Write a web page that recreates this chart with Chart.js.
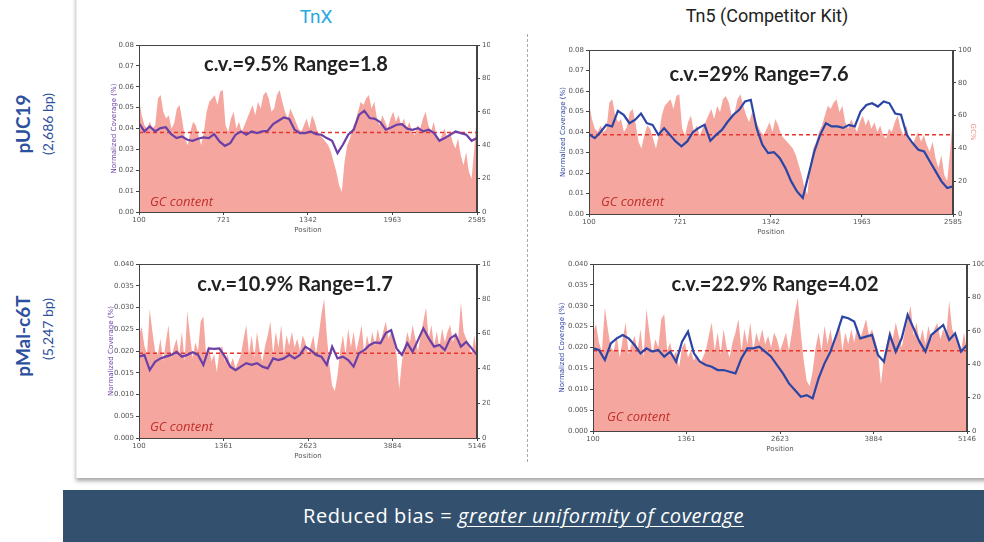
<!DOCTYPE html>
<html>
<head>
<meta charset="utf-8">
<script src="https://cdn.jsdelivr.net/npm/chart.js@4.4.1/dist/chart.umd.min.js"></script>
<style>
  body { margin: 0; width: 984px; height: 542px; position: relative; overflow: hidden; background: #fff; font-family: Lato, "Open Sans", sans-serif; }
  .abs { position: absolute; white-space: nowrap; }
  canvas { position: absolute; }
  .card { position: absolute; left: 76px; top: -10px; width: 930px; height: 488px; background: #fff; border-left: 1px solid #ececec; box-shadow: 0 3px 4px rgba(0,0,0,0.35); }
  .divider { position: absolute; left: 527px; top: 34px; height: 428px; border-left: 1px dashed #aaa; }
  .head { font-family: Roboto, sans-serif; font-size: 18px; transform: translateX(-50%); }
  .cv { font-family: Lato, sans-serif; font-weight: bold; font-size: 20px; color: #222; transform: translateX(-50%); }
  .gc { font-family: "Open Sans", sans-serif; font-style: italic; font-size: 13px; color: #c0302c; }
  .side { color: #2c4f9e; transform: translate(-50%, -50%) rotate(-90deg); }
  .banner { position: absolute; left: 63px; top: 490px; width: 921px; height: 52px; background: #33516f; color: #fff; font-family: "Open Sans", sans-serif; font-size: 20px; letter-spacing: 0.6px; text-align: center; line-height: 52px; }
  .banner i { font-weight: normal; text-decoration: underline; text-underline-offset: 3px; text-decoration-thickness: 1px; }
</style>
</head>
<body>
<div class="card"></div>
<div class="divider"></div>

<div class="abs head" style="left:316px; top:5px; color:#27aae1; font-size:19px;">TnX</div>
<div class="abs head" style="left:767px; top:5px; color:#222;">Tn5 (Competitor Kit)</div>

<div class="abs side" style="left:22px; top:124px; font-size:19px; font-weight:bold;">pUC19</div>
<div class="abs side" style="left:47px; top:124px; font-size:14px;">(2,686 bp)</div>
<div class="abs side" style="left:22px; top:336px; font-size:19px; font-weight:bold;">pMal-c6T</div>
<div class="abs side" style="left:47px; top:329px; font-size:14px;">(5,247 bp)</div>

<canvas id="chartTL"></canvas>
<canvas id="chartTR"></canvas>
<canvas id="chartBL"></canvas>
<canvas id="chartBR"></canvas>

<div class="abs cv" style="left:296px; top:51px;">c.v.=9.5% Range=1.8</div>
<div class="abs cv" style="left:759px; top:61px;">c.v.=29% Range=7.6</div>
<div class="abs cv" style="left:295px; top:271px;">c.v.=10.9% Range=1.7</div>
<div class="abs cv" style="left:775px; top:271px;">c.v.=22.9% Range=4.02</div>

<div class="abs gc" style="left:150px; top:192px;">GC content</div>
<div class="abs gc" style="left:601px; top:192px;">GC content</div>
<div class="abs gc" style="left:150px; top:417px;">GC content</div>
<div class="abs gc" style="left:607px; top:407px;">GC content</div>

<div class="banner">Reduced bias = <i>greater uniformity of coverage</i></div>

<script>
// rozsahy pozic
const topStart = 100, topEnd = 2585;
const botStart = 100, botEnd = 5146;
const topTicks = [100, 721, 1342, 1963, 2585];
const botTicks = [100, 1361, 2623, 3884, 5146];

// GC obsah (%) - pUC19
const gcTop = [68,58,52,50,54,50,52,68,70,60,56,58,50,53,62,64,55,44,40,48,
  54,52,46,40,48,60,66,68,70,64,72,73,52,48,56,60,50,54,48,52,
  56,60,64,58,66,62,70,72,68,60,62,70,73,66,60,56,62,58,54,50,
  48,52,56,50,58,54,48,46,44,42,40,36,30,24,16,12,30,40,44,50,
  54,60,66,64,68,70,62,66,56,52,58,54,50,56,60,54,58,52,56,50,
  54,48,46,52,50,56,60,52,48,54,46,42,46,50,44,48,42,38,44,34,
  28,36,24,20,38,60];

// GC obsah (%) - pMal-c6T
const gcBot = [59,64,53,48,74,61,50,48,57,44,55,65,46,52,57,48,61,44,73,59,
  46,55,50,67,70,48,53,44,48,38,50,53,44,48,42,46,40,44,48,57,
  65,48,59,46,61,50,44,53,59,67,48,61,52,65,48,59,53,61,52,57,
  50,59,55,48,53,59,48,59,71,80,59,42,30,27,36,50,59,48,63,52,
  61,50,57,65,48,59,52,61,53,63,55,61,67,57,61,55,48,28,44,52,
  61,55,65,57,50,59,67,75,57,65,53,61,52,63,55,61,65,55,61,57,
  78,61,57,53,48,59,48];

// normalizované pokrytí
const covTnXTop = [0.0426,0.0386,0.0410,0.0386,0.0402,0.0406,0.0373,0.0354,0.0362,0.0346,
  0.0341,0.0351,0.0357,0.0354,0.0373,0.0338,0.0317,0.0330,0.0370,0.0386,
  0.0370,0.0386,0.0378,0.0386,0.0389,0.0421,0.0437,0.0453,0.0446,0.0394,
  0.0378,0.0378,0.0386,0.0373,0.0370,0.0354,0.0341,0.0282,0.0322,0.0370,
  0.0394,0.0465,0.0485,0.0450,0.0446,0.0430,0.0394,0.0405,0.0418,0.0421,
  0.0399,0.0394,0.0402,0.0386,0.0394,0.0378,0.0341,0.0354,0.0370,0.0386,
  0.0378,0.0370,0.0341,0.0354];
const covTn5Top = [0.0390,0.0370,0.0400,0.0435,0.0427,0.0503,0.0484,0.0443,0.0460,0.0490,
  0.0443,0.0435,0.0386,0.0419,0.0386,0.0354,0.0330,0.0354,0.0400,0.0420,
  0.0435,0.0357,0.0386,0.0410,0.0450,0.0484,0.0508,0.0549,0.0557,0.0420,
  0.0338,0.0297,0.0302,0.0273,0.0224,0.0159,0.0110,0.0078,0.0191,0.0305,
  0.0386,0.0443,0.0427,0.0427,0.0420,0.0435,0.0427,0.0500,0.0532,0.0540,
  0.0524,0.0549,0.0540,0.0490,0.0484,0.0386,0.0346,0.0313,0.0305,0.0256,
  0.0208,0.0159,0.0127,0.0135];
const covTnXBot = [0.0187,0.0191,0.0156,0.0175,0.0183,0.0187,0.0191,0.0198,0.0187,0.0191,
  0.0197,0.0191,0.0168,0.0206,0.0205,0.0206,0.0187,0.0164,0.0156,0.0164,
  0.0172,0.0168,0.0172,0.0164,0.0160,0.0183,0.0179,0.0183,0.0191,0.0183,
  0.0191,0.0210,0.0202,0.0191,0.0187,0.0168,0.0210,0.0183,0.0187,0.0179,
  0.0164,0.0195,0.0202,0.0214,0.0220,0.0218,0.0241,0.0248,0.0206,0.0191,
  0.0218,0.0198,0.0225,0.0252,0.0229,0.0210,0.0214,0.0202,0.0229,0.0237,
  0.0210,0.0221,0.0206,0.0191];
const covTn5Bot = [0.0198,0.0194,0.0170,0.0210,0.0222,0.0230,0.0222,0.0206,0.0186,0.0198,
  0.0190,0.0194,0.0178,0.0190,0.0166,0.0214,0.0238,0.0186,0.0166,0.0158,
  0.0154,0.0146,0.0146,0.0142,0.0138,0.0174,0.0198,0.0198,0.0202,0.0190,
  0.0178,0.0158,0.0138,0.0114,0.0098,0.0082,0.0086,0.0078,0.0126,0.0162,
  0.0190,0.0230,0.0274,0.0270,0.0262,0.0222,0.0226,0.0230,0.0182,0.0166,
  0.0230,0.0190,0.0222,0.0278,0.0246,0.0214,0.0190,0.0230,0.0242,0.0254,
  0.0218,0.0234,0.0190,0.0206];

// průměrné pokrytí (čárkovaná čára)
const meanTnXTop = 0.0381, meanTn5Top = 0.0386;
const meanTnXBot = 0.0195, meanTn5Bot = 0.0192;

const purple = '#6b3fa6';
const blue = '#2b45a5';
const salmon = '#f5a79f';

Chart.defaults.font.family = 'DejaVu Sans';
Chart.defaults.font.size = 7;
Chart.defaults.color = '#555';

// rámeček kolem grafu (jako matplotlib)
const framePlugin = {
  id: 'frame',
  afterDraw(chart) {
    const a = chart.chartArea, c = chart.ctx;
    c.save();
    c.strokeStyle = '#444';
    c.lineWidth = 1;
    c.strokeRect(a.left + 0.5, a.top + 0.5, a.right - a.left - 1, a.bottom - a.top);
    c.restore();
  }
};

function toPoints(values, start, end) {
  return values.map((v, i) => ({ x: start + i * (end - start) / (values.length - 1), y: v }));
}

function createChart(id, box, opt) {
  const cv = document.getElementById(id);
  cv.width = box.right - box.left;
  cv.height = box.bottom - box.top;
  cv.style.left = box.left + 'px';
  cv.style.top = box.top + 'px';
  return new Chart(cv.getContext('2d'), {
    type: 'line',
    data: {
      datasets: [
        { data: toPoints(opt.cov, opt.start, opt.end), yAxisID: 'y', borderColor: opt.color, borderWidth: 2.2, pointRadius: 0, tension: 0, order: 0 },
        { data: [{ x: opt.start, y: opt.mean }, { x: opt.end, y: opt.mean }], yAxisID: 'y', borderColor: '#e8352c', borderWidth: 1.5, borderDash: [4, 3], pointRadius: 0, order: 1 },
        { data: toPoints(opt.gc, opt.start, opt.end), yAxisID: 'y1', borderWidth: 0, backgroundColor: salmon, fill: 'origin', pointRadius: 0, tension: 0, order: 2 }
      ]
    },
    options: {
      responsive: false,
      devicePixelRatio: 1,
      animation: false,
      events: [],
      layout: { padding: { top: box.pt, left: 0, right: 0, bottom: 0 } },
      plugins: { legend: { display: false }, tooltip: { enabled: false } },
      scales: {
        x: {
          type: 'linear', min: opt.start, max: opt.end,
          afterBuildTicks: s => { s.ticks = opt.ticks.map(v => ({ value: v })); },
          afterFit: s => { s.height = box.xh; },
          ticks: { padding: 1, maxRotation: 0, autoSkip: false, callback: v => String(v) },
          grid: { display: true, drawOnChartArea: false, tickLength: 3, color: '#444' },
          border: { color: '#444' },
          title: { display: true, text: 'Position', padding: 0, color: '#555' }
        },
        y: {
          position: 'left', min: 0, max: opt.ymax,
          ticks: { stepSize: opt.ystep, padding: 2, callback: v => v.toFixed(opt.dec) },
          afterFit: s => { s.width = box.lw; },
          grid: { display: true, drawOnChartArea: false, tickLength: 3, color: '#444' },
          border: { color: '#444' },
          title: { display: true, text: 'Normalized Coverage (%)', padding: 0, color: opt.color }
        },
        y1: {
          position: 'right', min: 0, max: 100,
          ticks: { stepSize: 20, padding: 2 },
          afterFit: s => { s.width = box.rw; },
          grid: { display: true, drawOnChartArea: false, tickLength: 3, color: '#444' },
          border: { color: '#444' },
          title: { display: opt.gcTitle, text: 'GC%', padding: 0, color: '#f08a80' }
        }
      }
    },
    plugins: [framePlugin]
  });
}

createChart('chartTL', { left: 110, top: 37, right: 490, bottom: 234, lw: 29, rw: 13, pt: 8, xh: 22 },
  { cov: covTnXTop, gc: gcTop, mean: meanTnXTop, start: topStart, end: topEnd, ticks: topTicks, color: purple, ymax: 0.08, ystep: 0.01, dec: 2, gcTitle: false });
createChart('chartTR', { left: 559, top: 42, right: 977, bottom: 236, lw: 30, rw: 24, pt: 8, xh: 22 },
  { cov: covTn5Top, gc: gcTop, mean: meanTn5Top, start: topStart, end: topEnd, ticks: topTicks, color: blue, ymax: 0.08, ystep: 0.01, dec: 2, gcTitle: true });
createChart('chartBL', { left: 107, top: 256, right: 490, bottom: 460, lw: 32, rw: 13, pt: 8, xh: 22 },
  { cov: covTnXBot, gc: gcBot, mean: meanTnXBot, start: botStart, end: botEnd, ticks: botTicks, color: purple, ymax: 0.04, ystep: 0.005, dec: 3, gcTitle: false });
createChart('chartBR', { left: 558, top: 256, right: 984, bottom: 453, lw: 35, rw: 17, pt: 8, xh: 22 },
  { cov: covTn5Bot, gc: gcBot, mean: meanTn5Bot, start: botStart, end: botEnd, ticks: botTicks, color: blue, ymax: 0.04, ystep: 0.005, dec: 3, gcTitle: false });
</script>
</body>
</html>
